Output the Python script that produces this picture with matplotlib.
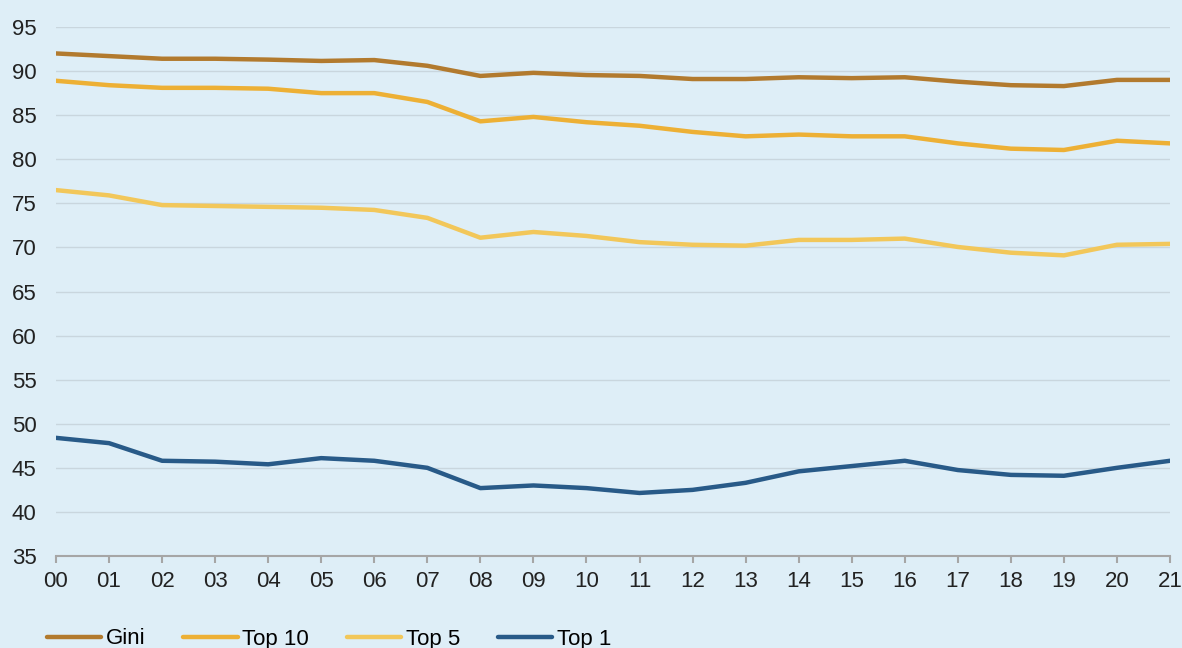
import matplotlib.pyplot as plt

# ==========================================================
# DATA
# ==========================================================
years = ["00", "01", "02", "03", "04", "05", "06", "07", "08", "09", "10",
         "11", "12", "13", "14", "15", "16", "17", "18", "19", "20", "21"]

gini  = [92.0, 91.7, 91.4, 91.4, 91.3, 91.15, 91.25, 90.6, 89.45, 89.8, 89.55,
         89.45, 89.1, 89.1, 89.3, 89.2, 89.3, 88.8, 88.4, 88.3, 89.0, 89.0]
top10 = [88.9, 88.4, 88.1, 88.1, 88.0, 87.5, 87.5, 86.5, 84.3, 84.8, 84.2,
         83.8, 83.1, 82.6, 82.8, 82.6, 82.6, 81.8, 81.2, 81.05, 82.1, 81.8]
top5  = [76.5, 75.9, 74.8, 74.7, 74.6, 74.5, 74.25, 73.35, 71.1, 71.75, 71.3,
         70.6, 70.3, 70.2, 70.85, 70.85, 71.0, 70.05, 69.4, 69.1, 70.3, 70.4]
top1  = [48.4, 47.8, 45.8, 45.7, 45.4, 46.1, 45.8, 45.0, 42.7, 43.0, 42.7,
         42.15, 42.5, 43.3, 44.6, 45.2, 45.8, 44.75, 44.2, 44.1, 45.0, 45.8]

series = [("Gini", gini, "#B27A2E"),
          ("Top 10", top10, "#EDB035"),
          ("Top 5", top5, "#F2C75A"),
          ("Top 1", top1, "#285A88")]

BG = "#DEEEF7"

# ==========================================================
# PLOT
# ==========================================================
plt.rcParams['font.family'] = ['Liberation Sans', 'DejaVu Sans']

fig = plt.figure(figsize=(11.82, 6.48), dpi=100, facecolor=BG)
ax = fig.add_axes([56/1182, 1 - 556/648, (1170 - 56)/1182, (556 - 27)/648])
ax.set_facecolor(BG)

x = list(range(len(years)))
for name, vals, col in series:
    ax.plot(x, vals, color=col, lw=3.2, label=name, solid_capstyle='round')

ax.set_xlim(0, len(years) - 1)
ax.set_ylim(35, 95)
ax.set_yticks(range(35, 96, 5))
ax.set_xticks(x)
ax.set_xticklabels(years)

ax.grid(axis='y', color='#C9D6DE', lw=1)
ax.set_axisbelow(True)
for s in ['top', 'right', 'left']:
    ax.spines[s].set_visible(False)
ax.spines['bottom'].set_color('#A6A6A6')
ax.spines['bottom'].set_linewidth(1.5)

ax.tick_params(axis='y', length=0, labelsize=16, pad=14, colors='#222222')
ax.tick_params(axis='x', length=5, width=1.5, color='#A6A6A6',
               labelsize=16, pad=6, labelcolor='#222222')

# legend along the bottom edge
fig.legend(loc='center left', bbox_to_anchor=(47/1182, 1 - 639/648), ncol=4,
           frameon=False, fontsize=16, handlelength=2.45, handletextpad=0.2,
           columnspacing=1.7, borderpad=0, borderaxespad=0)

fig.savefig("out.png", dpi=100, facecolor=BG)
